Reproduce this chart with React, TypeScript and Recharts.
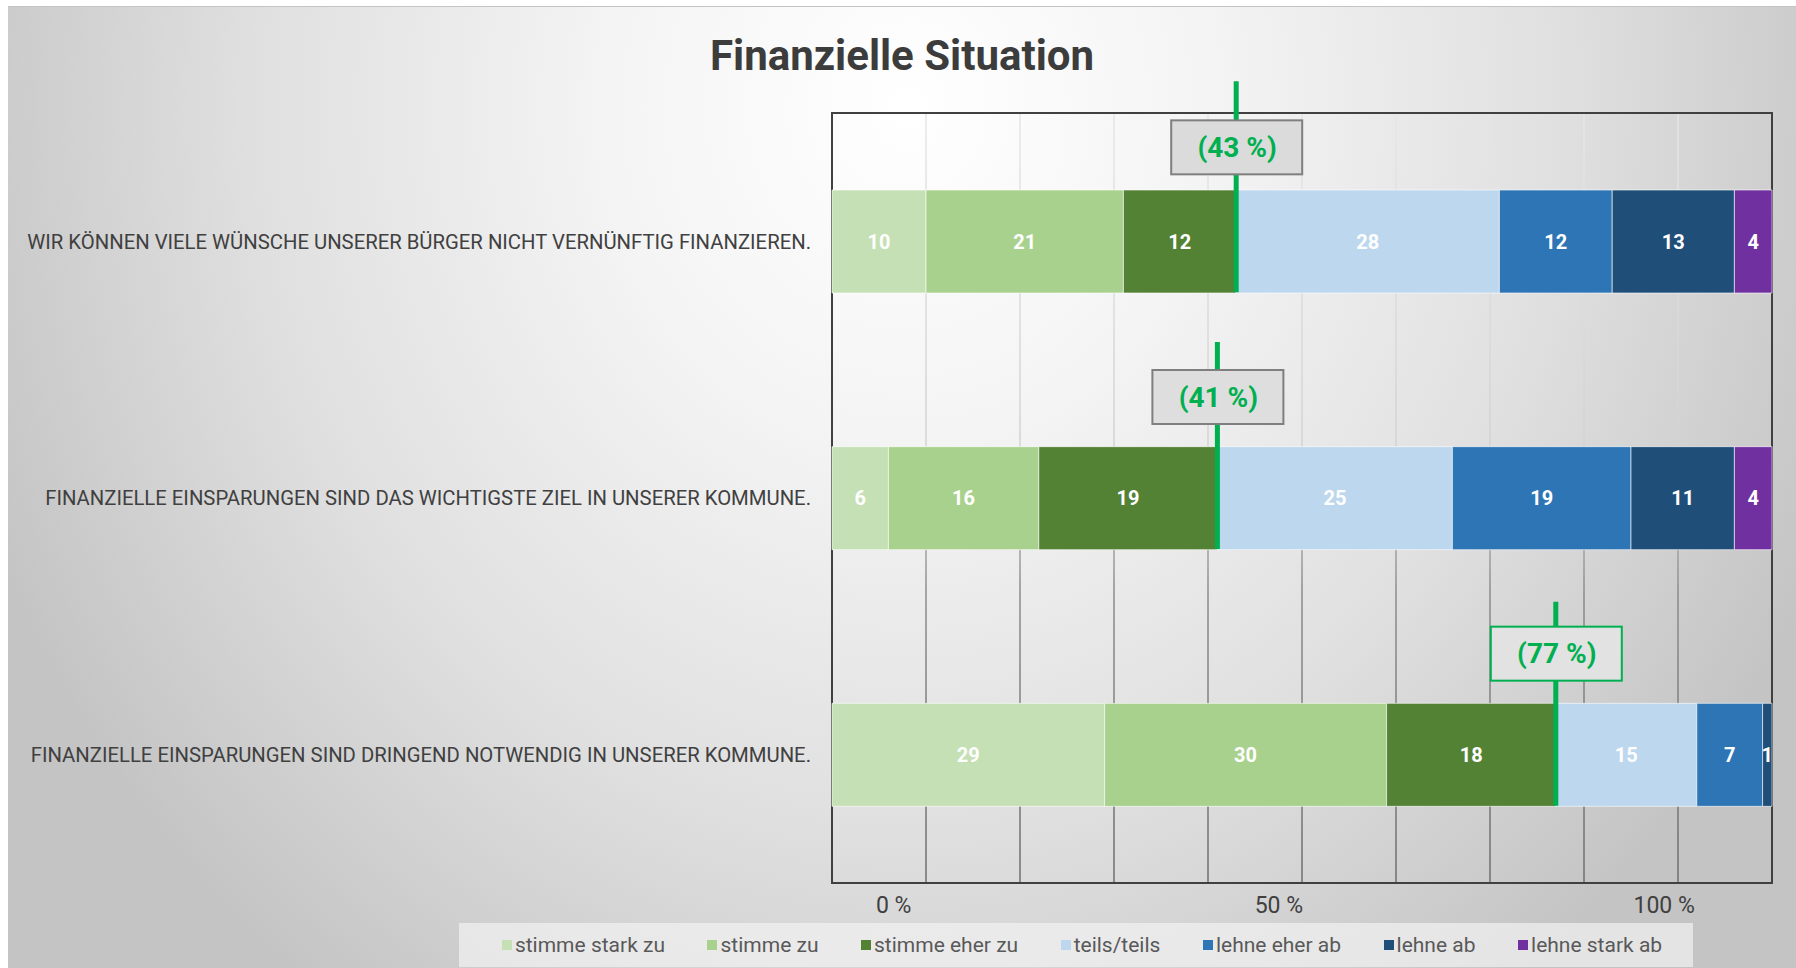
import {
  ComposedChart,
  Bar,
  XAxis,
  YAxis,
  CartesianGrid,
  Legend,
  LabelList,
  ReferenceArea,
  ReferenceDot,
} from 'recharts';

// statements (y categories)
const statements = [
  'WIR KÖNNEN VIELE WÜNSCHE UNSERER BÜRGER NICHT VERNÜNFTIG FINANZIEREN.',
  'FINANZIELLE EINSPARUNGEN SIND DAS WICHTIGSTE ZIEL IN UNSERER KOMMUNE.',
  'FINANZIELLE EINSPARUNGEN SIND DRINGEND NOTWENDIG IN UNSERER KOMMUNE.',
];

const answerLabels = [
  'stimme stark zu',
  'stimme zu',
  'stimme eher zu',
  'teils/teils',
  'lehne eher ab',
  'lehne ab',
  'lehne stark ab',
];

// shares in percent, one value per statement
const stimmeStarkZu = [10, 6, 29];
const stimmeZu = [21, 16, 30];
const stimmeEherZu = [12, 19, 18];
const teilsTeils = [28, 25, 15];
const lehneEherAb = [12, 19, 7];
const lehneAb = [13, 11, 1];
const lehneStarkAb = [4, 4, 0];

// total agreement shown in the green boxes
const agreeShare = [43, 41, 77];

const gridTicks = [0, 10, 20, 30, 40, 50, 60, 70, 80, 90, 100];
const percentTicks = [0, 50, 100];

const answerColors = ['#c5e0b4', '#a9d18e', '#548235', '#bdd7ee', '#2e75b6', '#1f4e79', '#7030a0'];
const seriesValues = [stimmeStarkZu, stimmeZu, stimmeEherZu, teilsTeils, lehneEherAb, lehneAb, lehneStarkAb];

const FONT = 'Roboto, "Liberation Sans", sans-serif';

const chartData = statements.map((name, i) => {
  const row: Record<string, string | number> = { name };
  seriesValues.forEach((vals, k) => {
    row['s' + k] = vals[i];
  });
  return row;
});

// box look and vertical placement per statement
const markerBoxes = [
  { fill: '#dbdbdb', stroke: '#7f7f7f', dy: -94, top: -160 },
  { fill: '#dedede', stroke: '#7f7f7f', dy: -101, top: -156 },
  { fill: '#e2e2e2', stroke: '#00b050', dy: -101, top: -153 },
];

function AgreeMarker({ cx, cy, label, box }: any) {
  return (
    <g>
      <line x1={cx} x2={cx} y1={cy + box.top} y2={cy + 51} stroke="#00b050" strokeWidth={5} />
      <rect x={cx - 65} y={cy + box.dy - 27} width={131} height={54} fill={box.fill} stroke={box.stroke} strokeWidth={2} />
      <text
        x={cx + 1}
        y={cy + box.dy}
        textAnchor="middle"
        dominantBaseline="central"
        fill="#00b050"
        fontSize={28}
        fontWeight="bold"
        fontFamily={FONT}
      >
        {label}
      </text>
    </g>
  );
}

function StatementTick({ x, y, payload }: any) {
  return (
    <text x={x} y={y} dy="0.355em" textAnchor="end" fill="#404040" fontSize={20.3} fontFamily={FONT}>
      {payload.value}
    </text>
  );
}

function LegendBox() {
  return (
    <div
      style={{
        display: 'flex',
        alignItems: 'center',
        justifyContent: 'center',
        height: '100%',
        gap: 42.5,
        paddingLeft: 12,
        boxSizing: 'border-box',
        fontFamily: FONT,
        fontSize: 21,
        color: '#595959',
      }}
    >
      {answerLabels.map((lbl, k) => (
        <span key={lbl} style={{ display: 'flex', alignItems: 'center' }}>
          <span style={{ width: 10, height: 10, background: answerColors[k], marginRight: 3 }} />
          {lbl}
        </span>
      ))}
    </div>
  );
}

export default function App() {
  return (
    <>
      <style>{'body{margin:0;overflow:hidden}'}</style>
      <svg width={0} height={0} style={{ position: 'absolute' }}>
        <defs>
          <linearGradient id="gridFade" gradientUnits="userSpaceOnUse" x1={0} y1={106} x2={0} y2={876}>
            <stop offset="0" stopColor="#e6e6e6" />
            <stop offset="0.45" stopColor="#d2d2d2" />
            <stop offset="0.62" stopColor="#8c8c8c" />
            <stop offset="1" stopColor="#6e6e6e" />
          </linearGradient>
        </defs>
      </svg>
      <div
        style={{
          position: 'relative',
          marginLeft: 8,
          marginTop: 6,
          width: 1788,
          height: 962,
          borderTop: '1px solid #c4c4c4',
          boxSizing: 'border-box',
          background:
            'radial-gradient(ellipse 1000px 1100px at 900px 100px, #ffffff 0%, #f4f4f4 30%, #e0e0e0 65%, #c4c4c4 100%)',
        }}
      >
        <div
          style={{
            position: 'absolute',
            top: 28,
            left: 0,
            width: '100%',
            textAlign: 'center',
            fontFamily: FONT,
            fontWeight: 'bold',
            fontSize: 42,
            lineHeight: '42px',
            color: '#3c3c3c',
            zIndex: 2,
          }}
        >
          Finanzielle Situation
        </div>
        <ComposedChart
          width={1788}
          height={962}
          layout="vertical"
          data={chartData}
          margin={{ top: 106, right: 24, bottom: 56, left: 0 }}
          barCategoryGap="30%"
        >
          <CartesianGrid xAxisId="main" horizontal={false} stroke="url(#gridFade)" strokeWidth={1.5} />
          <XAxis xAxisId="main" type="number" domain={[0, 100]} ticks={gridTicks} hide />
          <XAxis
            xAxisId="lbl"
            type="number"
            domain={[-8, 114]}
            allowDataOverflow
            ticks={percentTicks}
            tickFormatter={(v) => `${v} %`}
            axisLine={false}
            tickLine={false}
            tickSize={0}
            tickMargin={14}
            height={30}
            tick={{ fill: '#404040', fontSize: 23, fontFamily: FONT }}
          />
          <YAxis
            type="category"
            dataKey="name"
            width={824}
            axisLine={false}
            tickLine={false}
            tickSize={0}
            tickMargin={21}
            tick={<StatementTick />}
          />
          <ReferenceArea
            xAxisId="main"
            x1={0}
            x2={100}
            fill="none"
            fillOpacity={0}
            stroke="#404040"
            strokeWidth={2}
            ifOverflow="visible"
          />
          {answerLabels.map((lbl, k) => (
            <Bar
              key={lbl}
              xAxisId="main"
              dataKey={'s' + k}
              name={lbl}
              stackId="a"
              fill={answerColors[k]}
              stroke="#ffffff"
              strokeOpacity={0.6}
              strokeWidth={1}
              isAnimationActive={false}
            >
              <LabelList
                dataKey={'s' + k}
                position="center"
                fill="#ffffff"
                fontSize={20}
                fontWeight="bold"
                fontFamily={FONT}
                formatter={(v: any) => (v ? v : '')}
              />
            </Bar>
          ))}
          {statements.map((s, i) => (
            <ReferenceDot
              key={s}
              xAxisId="main"
              x={agreeShare[i]}
              y={s}
              r={0}
              shape={(p: any) => <AgreeMarker cx={p.cx} cy={p.cy} label={`(${agreeShare[i]} %)`} box={markerBoxes[i]} />}
            />
          ))}
          <Legend
            layout="horizontal"
            align="center"
            verticalAlign="middle"
            content={<LegendBox />}
            wrapperStyle={{
              left: 451,
              top: 916,
              width: 1234,
              height: 44,
              background: 'rgba(242,242,242,0.7)',
            }}
          />
        </ComposedChart>
      </div>
    </>
  );
}
